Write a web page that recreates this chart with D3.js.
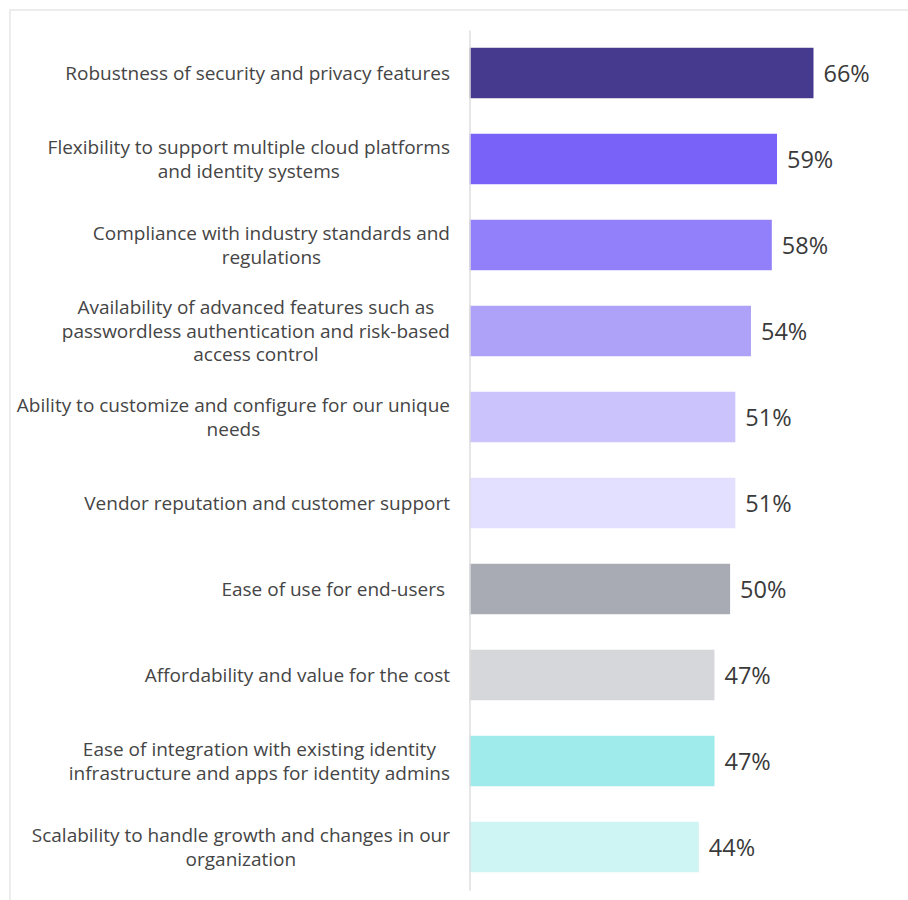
<!DOCTYPE html>
<html>
<head>
<meta charset="utf-8">
<script src="https://cdn.jsdelivr.net/npm/d3@7"></script>
<style>
  body { margin: 0; background: #ffffff; }
  svg text { font-family: "Open Sans", "Noto Sans", sans-serif; }
</style>
</head>
<body>
<svg id="chart" width="908" height="900"></svg>
<script>
// Survey factors (line breaks mark where each label wraps)
const categories = [
  "Robustness of security and privacy features",
  "Flexibility to support multiple cloud platforms\nand identity systems",
  "Compliance with industry standards and\nregulations",
  "Availability of advanced features such as\npasswordless authentication and risk-based\naccess control",
  "Ability to customize and configure for our unique\nneeds",
  "Vendor reputation and customer support",
  "Ease of use for end-users ",
  "Affordability and value for the cost",
  "Ease of integration with existing identity\ninfrastructure and apps for identity admins",
  "Scalability to handle growth and changes in our\norganization"
];

// Share of respondents, in percent
const values = [66, 59, 58, 54, 51, 51, 50, 47, 47, 44];

// Fill for each bar, top to bottom
const barColors = [
  "#463a8e", "#7862f8", "#9180fa", "#ada2f8", "#cac3fc",
  "#e3dffe", "#a9abb4", "#d6d7db", "#9febeb", "#cff4f4"
];

const svg = d3.select("#chart");

// Light frame along the top and left edges
svg.append("path")
  .attr("d", "M10,900V10H908")
  .attr("fill", "none")
  .attr("stroke", "#ececec")
  .attr("stroke-width", 2);

const axisX = 469.5;
const labelRight = 450;

const y = d3.scaleBand()
  .domain(categories)
  .range([30, 890])
  .paddingInner(0.413)
  .paddingOuter(0.2065);

const x = d3.scaleLinear()
  .domain([0, d3.max(values)])
  .range([axisX, 813.5]);

const rows = categories.map((c, i) => ({ cat: c, value: values[i], color: barColors[i] }));

// Bars
svg.append("g")
  .selectAll("rect")
  .data(rows)
  .join("rect")
  .attr("x", x(0))
  .attr("y", d => y(d.cat))
  .attr("width", d => x(d.value) - x(0))
  .attr("height", y.bandwidth())
  .attr("fill", d => d.color);

// Vertical baseline axis
const axis = svg.append("g")
  .attr("transform", `translate(${axisX},0)`)
  .call(d3.axisLeft(y).tickSize(0).tickSizeOuter(0).tickFormat(() => ""));
axis.selectAll(".tick").remove();
axis.select(".domain")
  .attr("stroke", "#dedede")
  .attr("stroke-width", 1.5);

// Category labels: block right-aligned to the axis, lines centred within it
const lineH = 23.4;
const labels = svg.append("g")
  .attr("fill", "#454545")
  .style("font-size", "19px");

rows.forEach(d => {
  const lines = d.cat.split("\n");
  const cy = y(d.cat) + y.bandwidth() / 2;
  const t = labels.append("text")
    .attr("text-anchor", "middle")
    .style("white-space", "pre");
  const spans = lines.map((ln, k) =>
    t.append("tspan")
      .attr("y", cy - (lines.length - 1) * lineH / 2 + k * lineH + 6.8)
      .text(ln)
  );
  const maxW = d3.max(spans, s => s.node().getComputedTextLength());
  spans.forEach(s => s.attr("x", labelRight - maxW / 2));
});

// Value labels at the bar ends
svg.append("g")
  .attr("fill", "#3a3a3a")
  .style("font-size", "23.5px")
  .selectAll("text")
  .data(rows)
  .join("text")
  .attr("x", d => x(d.value) + 10)
  .attr("y", d => y(d.cat) + y.bandwidth() / 2 + 8.5)
  .text(d => d.value + "%");
</script>
</body>
</html>
